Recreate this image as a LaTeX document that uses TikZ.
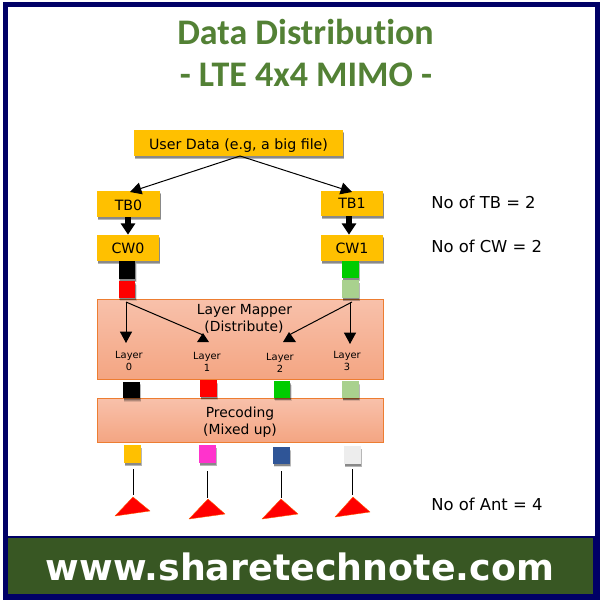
\documentclass[tikz,border=0pt]{standalone}
\usepackage{fontspec}
\setmainfont{DejaVu Sans}
\newfontfamily\titlefont[Ligatures=NoCommon]{Carlito}
\usetikzlibrary{arrows.meta,shadows,shapes.geometric}
\definecolor{navyframe}{HTML}{000066}
\definecolor{bandgreen}{HTML}{385723}
\definecolor{titlegreen}{HTML}{538135}
\definecolor{gold}{HTML}{FFC000}
\definecolor{lightgreen}{HTML}{A9D18E}
\definecolor{mapperline}{HTML}{ED7D31}
\definecolor{mappertop}{HTML}{F8C1AB}
\definecolor{mapperbot}{HTML}{F4A582}
\definecolor{pinksq}{HTML}{FF33CC}
\definecolor{bluesq}{HTML}{2F5597}
\definecolor{whitesq}{HTML}{EDEDED}
\tikzset{
  x=0.75pt,y=-0.75pt,
  softshadow/.style={
    general shadow={fill=black,opacity=.12,shadow xshift=.9pt,shadow yshift=-2.6pt},
    general shadow={fill=black,opacity=.18,shadow xshift=.7pt,shadow yshift=-1.9pt},
    general shadow={fill=black,opacity=.25,shadow xshift=.4pt,shadow yshift=-1.2pt}},
  goldbox/.style={fill=gold,softshadow,inner sep=0pt,text depth=1pt,font=\fontsize{10.65pt}{12pt}\selectfont,text=black},
  sq/.style={softshadow,inner sep=0pt,minimum width=12.6pt,minimum height=12.6pt},
  bigbox/.style={draw=mapperline,line width=.75pt,top color=mappertop,bottom color=mapperbot,inner sep=0pt},
  boxtext/.style={font=\fontsize{10.4pt}{12pt}\selectfont,text=black,inner sep=0pt},
  layertext/.style={font=\fontsize{7.4pt}{9pt}\selectfont,text=black,inner sep=0pt,align=center},
  sidetext/.style={font=\fontsize{12.3pt}{14pt}\selectfont,text=black,inner sep=0pt,anchor=west},
  thinarrow/.style={line width=.75pt,-{Triangle[width=9pt,length=8.5pt]}},
  fatarrow/.style={line width=4.5pt,-{Triangle[width=10.5pt,length=8.5pt]}},
  plainline/.style={line width=.75pt,black},
  antenna/.style={fill=red,draw=orange!70!red,line width=.3pt,line join=round},
  headtri/.style={fill=black},
}
\begin{document}
\begin{tikzpicture}
\useasboundingbox (0,0) rectangle (602,603);
\fill[white] (0,0) rectangle (602,603);
% frame
\fill[navyframe] (3,2) rectangle (600,600);
\fill[white] (8,7) rectangle (595,536);
\fill[bandgreen] (8,538) rectangle (593,594);
% title
\node[font=\titlefont\bfseries\fontsize{27pt}{30pt}\selectfont,text=titlegreen,inner sep=0pt] (title1) at (305.5,32) {Data Distribution};
\node[font=\titlefont\bfseries\fontsize{27pt}{30pt}\selectfont,text=titlegreen,inner sep=0pt] (title2) at (306,75) {- LTE 4x4 MIMO -};
% site
\node[font=\bfseries\fontsize{27.3pt}{32pt}\selectfont,text=white,inner sep=0pt] (site) at (300,566.5) {www.sharetechnote.com};
% big boxes
\node[bigbox,minimum width=215pt,minimum height=60pt] (mapper) at (240.5,339) {};
\node[bigbox,minimum width=215pt,minimum height=33pt] (precoding) at (240.5,420) {};
\node[boxtext] (mapper1) at (244.5,310.5) {Layer Mapper};
\node[boxtext] (mapper2) at (244,327) {(Distribute)};
\node[boxtext] (prec1) at (240,414) {Precoding};
\node[boxtext] (prec2) at (240,430.5) {(Mixed up)};
% gold boxes
\node[goldbox,text height=10.4pt,minimum width=156.75pt,minimum height=19.5pt] (user) at (238.5,143) {User Data (e.g, a big file)};
\node[goldbox,text height=10pt,minimum width=47.25pt,minimum height=19.5pt] (tb0) at (128.5,204) {TB0};
\node[goldbox,text height=9.2pt,minimum width=46.5pt,minimum height=18.75pt] (tb1) at (352,203.5) {TB1};
\node[goldbox,text height=8.5pt,minimum width=46.5pt,minimum height=19.5pt] (cw0) at (128,248) {CW0};
\node[goldbox,text height=8.5pt,minimum width=46.5pt,minimum height=19.5pt] (cw1) at (352,248) {CW1};
% squares
\node[sq,fill=black,minimum height=13.5pt] (a0) at (127,270) {};
\node[sq,fill=red] (a1) at (127,289.5) {};
\node[sq,fill=green!80!black,minimum height=12.75pt] (a2) at (350.5,269.5) {};
\node[sq,fill=lightgreen,minimum height=13.5pt] (a3) at (350.5,289) {};
\node[sq,fill=black] (b0) at (131.5,390) {};
\node[sq,fill=red] (b1) at (208.5,388.5) {};
\node[sq,fill=green!80!black] (b2) at (282,389.5) {};
\node[sq,fill=lightgreen] (b3) at (350.5,389.5) {};
\node[sq,fill=gold,minimum height=13.5pt] (c0) at (132.5,454) {};
\node[sq,fill=pinksq,minimum height=13.5pt] (c1) at (207.5,454) {};
\node[sq,fill=bluesq] (c2) at (281.5,455.5) {};
\node[sq,fill=whitesq,minimum height=13.5pt] (c3) at (352.5,455) {};
% layer labels
\node[layertext] (l0) at (129,361) {Layer\\0};
\node[layertext] (l1) at (207,362) {Layer\\1};
\node[layertext] (l2) at (280,362.5) {Layer\\2};
\node[layertext] (l3) at (347,360.5) {Layer\\3};
% side labels
\node[sidetext] (n1) at (431,202.5) {No of TB = 2};
\node[sidetext] (n2) at (431,246.5) {No of CW = 2};
\node[sidetext] (n3) at (431,504.5) {No of Ant = 4};
% connectors
\coordinate (ubot) at (240,156);
\coordinate (t0) at (130,192);
\coordinate (t1) at (352,192);
\draw[thinarrow] (ubot) -- (t0);
\draw[thinarrow] (ubot) -- (t1);
\draw[fatarrow] (tb0.south) ++(-.5,0) coordinate (f0) -- (f0 |- cw0.north);
\draw[fatarrow] (tb1.south) ++(-3,0) coordinate (f1) -- (f1 |- cw1.north);
% layer arrows
\coordinate (s0) at (126,302);
\coordinate (s1) at (352,302);
\coordinate (e0) at (126,343);
\coordinate (e3) at (350,344);
\coordinate (e1) at (203,335);
\coordinate (e2) at (289,335);
\draw[thinarrow] (s0) -- (e0);
\draw[thinarrow] (s1 -| e3) -- (e3);
\draw[plainline] (s0) -- (e1);
\draw[plainline] (s1) -- (e2);
\fill[headtri] (203,333) -- (209,342) -- (197,342) -- cycle;
\fill[headtri] (289,332) -- (296,342) -- (283,342) -- cycle;
% antennas
\foreach \n/\ax/\ay/\lx/\ly/\rx/\ry in {0/133/497/115/516/150/511,1/208/499/189/519/225/514,2/281/499/262/519/298/514,3/353/497/335/517/370/512}{
  \draw[antenna] (\ax,\ay) coordinate (ant\n) -- (\lx,\ly) -- (\rx,\ry) -- cycle;
}
\coordinate (t0s) at (133,469); \coordinate (t1s) at (207,471); \coordinate (t2s) at (281,471); \coordinate (t3s) at (352,469);
\coordinate (t0e) at (133,495); \coordinate (t1e) at (207,498); \coordinate (t2e) at (281,498); \coordinate (t3e) at (352,495);
\foreach \n in {0,1,2,3}{\draw[plainline] (t\n s) -- (t\n e);}
\end{tikzpicture}
\end{document}
